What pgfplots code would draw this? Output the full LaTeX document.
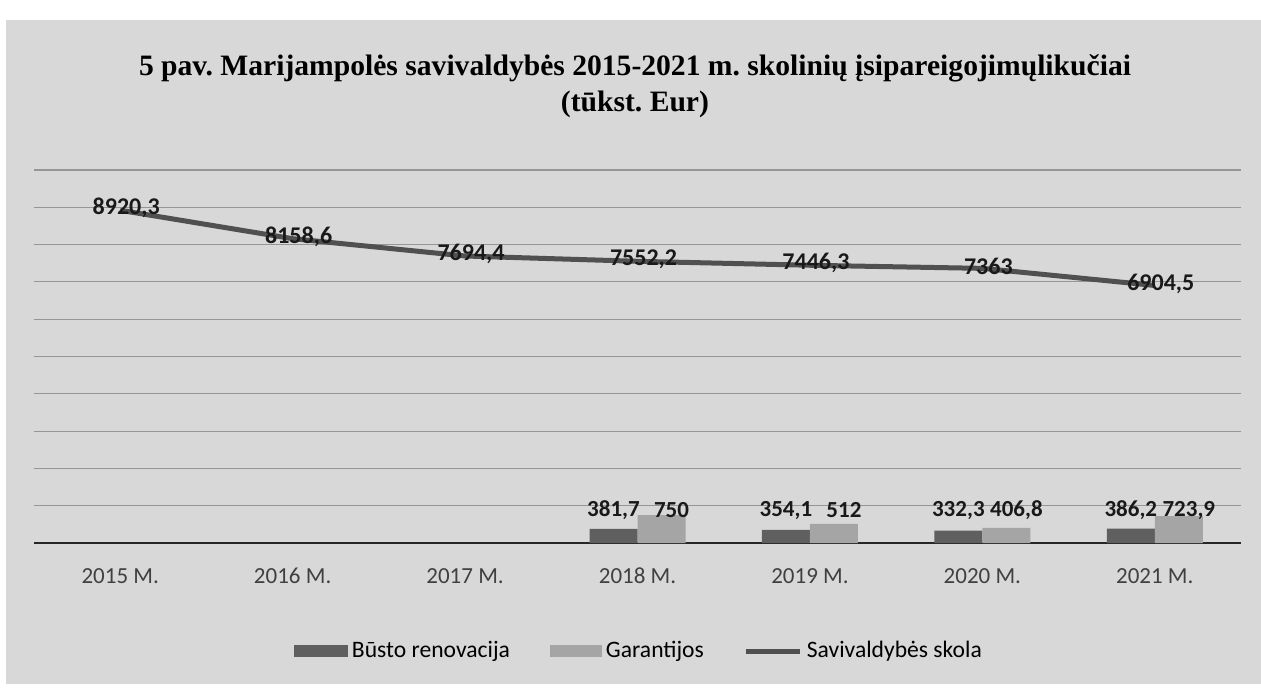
\documentclass[border=0pt]{standalone}
\usepackage{pgfplots}
\pgfplotsset{compat=1.18}
\usepackage{fontspec}
\setmainfont{Carlito}
\newfontfamily\titlefont{Liberation Serif}
\frenchspacing
\definecolor{bg}{RGB}{216,216,216}
\definecolor{gridc}{RGB}{150,150,150}
\definecolor{linec}{RGB}{80,80,80}
\definecolor{darkbar}{RGB}{95,95,95}
\definecolor{lightbar}{RGB}{165,165,165}
\begin{document}
\begin{tikzpicture}[x=1pt,y=1pt]
\fill[white] (0,0) rectangle (630.5,346);
\fill[bg] (3,4) rectangle (630.5,336);
\node[font=\titlefont\bfseries\fontsize{14.8}{18}\selectfont, align=center] at (317.5,303) {5 pav. Marijampolės savivaldybės 2015-2021 m. skolinių įsipareigojimųlikučiai\\(tūkst. Eur)};
\begin{axis}[
  at={(17pt,74.5pt)}, anchor=south west,
  width=603.5pt, height=186.5pt, scale only axis,
  xmin=-0.5, xmax=6.5, ymin=0, ymax=10000,
  scaled y ticks=false,
  xtick={0,...,6},
  xticklabels={2015 M.,2016 M.,2017 M.,2018 M.,2019 M.,2020 M.,2021 M.},
  ytick={1000,2000,...,10000}, yticklabels={},
  major tick length=0pt,
  ymajorgrids, grid style={color=gridc, line width=0.55pt},
  axis x line*=bottom, axis y line*=left,
  x axis line style={line width=1.3pt, color=black!85},
  y axis line style={draw=none},
  xticklabel style={font=\fontsize{11.5}{13}\selectfont, color=black!75, yshift=-9pt},
  clip=false,
  legend columns=3,
  legend style={at={(0.502,-0.29)}, anchor=center, draw=none, fill=none,
    font=\fontsize{11.8}{13}\selectfont, /tikz/every even column/.append style={column sep=18pt}},
]
\addplot[ybar, bar width=24pt, bar shift=-12pt, fill=darkbar, draw=none,
  legend image code/.code={\fill[darkbar] (0pt,-3pt) rectangle (27pt,3pt);}]
  coordinates {(3,381.7) (4,354.1) (5,332.3) (6,386.2)};
\addlegendentry{Būsto renovacija}
\addplot[ybar, bar width=24pt, bar shift=12pt, fill=lightbar, draw=none,
  legend image code/.code={\fill[lightbar] (0pt,-3pt) rectangle (26pt,3pt);}]
  coordinates {(3,750) (4,512) (5,406.8) (6,723.9)};
\addlegendentry{Garantijos}
\addplot[color=linec, line width=2.5pt, mark=none,
  nodes near coords={\pgfmathprintnumber[use comma,1000 sep={},precision=1,assume math mode=true]{\pgfplotspointmeta}},
  every node near coord/.append style={font=\bfseries\fontsize{12}{14}\selectfont, color=black!90, anchor=center, xshift=3pt, yshift=1pt},
  legend image code/.code={\draw[linec, line width=2.5pt] (0pt,0pt) -- (27pt,0pt);}]
  coordinates {(0,8920.3) (1,8158.6) (2,7694.4) (3,7552.2) (4,7446.3) (5,7363) (6,6904.5)};
\addlegendentry{Savivaldybės skola}
% bar value labels, set side by side at one height as in the reference
\addplot[draw=none, mark=none, forget plot, point meta=explicit,
  nodes near coords={\pgfmathprintnumber[use comma,1000 sep={},precision=1,assume math mode=true]{\pgfplotspointmeta}},
  every node near coord/.append style={font=\bfseries\fontsize{11.5}{13}\selectfont, color=black!90, anchor=center, xshift=-12pt}]
  coordinates {(3,880) [381.7] (4,880) [354.1] (5,880) [332.3] (6,880) [386.2]};
\addplot[draw=none, mark=none, forget plot, point meta=explicit,
  nodes near coords={\pgfmathprintnumber[use comma,1000 sep={},precision=1,assume math mode=true]{\pgfplotspointmeta}},
  every node near coord/.append style={font=\bfseries\fontsize{11.5}{13}\selectfont, color=black!90, anchor=center, xshift=17pt}]
  coordinates {(3,880) [750] (4,880) [512] (5,880) [406.8] (6,880) [723.9]};
\end{axis}
\end{tikzpicture}
\end{document}
